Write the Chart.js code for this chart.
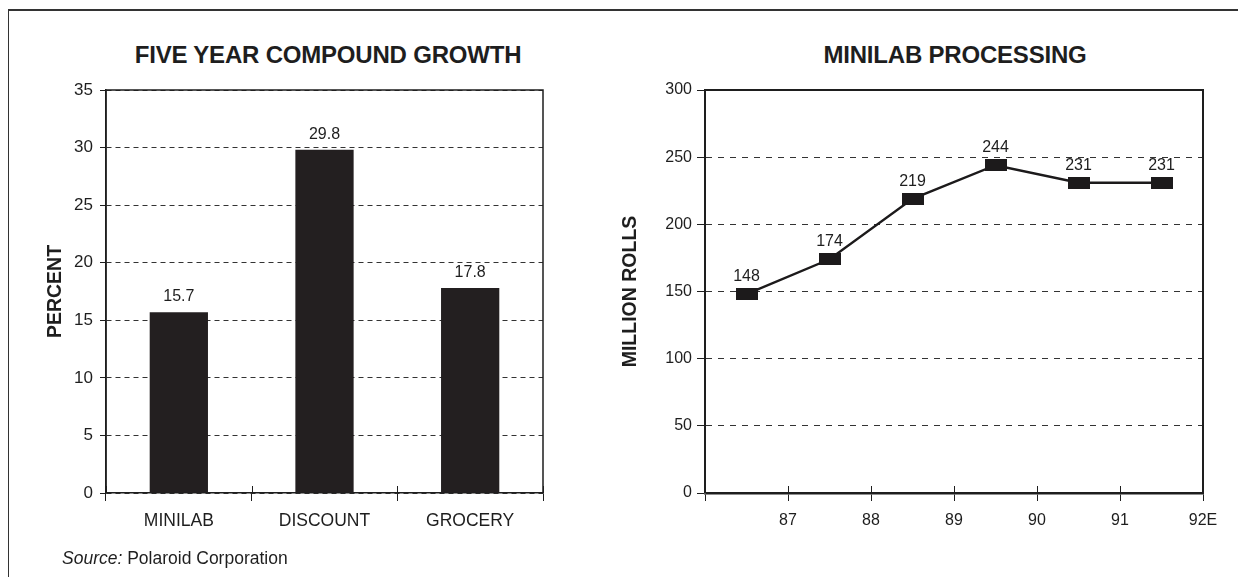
<!DOCTYPE html>
<html>
<head>
<meta charset="utf-8">
<script src="https://cdn.jsdelivr.net/npm/chart.js@4.4.0/dist/chart.umd.min.js"></script>
<style>
  html, body { margin: 0; padding: 0; background: #fff; }
  #page {
    position: relative; width: 1238px; height: 577px; overflow: hidden;
    background: #fff; color: #1e1e1e;
    font-family: "Liberation Sans", Arial, Helvetica, sans-serif;
  }
  #frame {
    position: absolute; left: 8px; top: 9px; right: -10px; bottom: -10px;
    border-top: 2px solid #333; border-left: 1.5px solid #333;
  }
  .panel-title {
    position: absolute; top: 43px; width: 460px; text-align: center;
    font-weight: bold; font-size: 24px; line-height: 24px; letter-spacing: -0.2px;
  }
  #source {
    position: absolute; left: 62px; top: 549px; font-size: 17.5px; line-height: 18px;
  }
  canvas { position: absolute; top: 0; }
</style>
</head>
<body>
<div id="page">
  <div id="frame"></div>
  <div class="panel-title" style="left:98px;">FIVE YEAR COMPOUND GROWTH</div>
  <div class="panel-title" style="left:725px;">MINILAB PROCESSING</div>
  <canvas id="growth" width="600" height="577" style="left:0;"></canvas>
  <canvas id="processing" width="638" height="577" style="left:600px;"></canvas>
  <div id="source"><i>Source:</i> Polaroid Corporation</div>
</div>
<script>
// Five year compound growth, percent
const growthCategories = ['MINILAB', 'DISCOUNT', 'GROCERY'];
const growthPercent = [15.7, 29.8, 17.8];

// Minilab processing, million rolls per year
const processingYears = ['87', '88', '89', '90', '91', '92E'];
const processingRolls = [148, 174, 219, 244, 231, 231];

const ink = '#1e1e1e';
const family = '"Liberation Sans", Arial, Helvetica, sans-serif';

// Solid box round the plot area, plus short tick stubs inside the x axis
const frameBox = {
  id: 'frameBox',
  afterDraw(chart, args, opts) {
    const { ctx, chartArea: { left, top, right, bottom } } = chart;
    ctx.save();
    ctx.strokeStyle = ink;
    ctx.lineWidth = opts.width;
    ctx.beginPath();
    ctx.moveTo(left, bottom);
    ctx.lineTo(left, top);
    ctx.lineTo(right, top);
    ctx.lineTo(right, bottom);
    ctx.stroke();
    const xs = chart.scales.x;
    const n = chart.data.labels.length;
    ctx.lineWidth = 1;
    for (let i = 0; i <= n; i++) {
      const px = Math.round(xs.getPixelForValue(i - 0.5)) + 0.5;
      ctx.beginPath();
      ctx.moveTo(px, bottom);
      ctx.lineTo(px, bottom - opts.stub);
      ctx.stroke();
    }
    ctx.restore();
  }
};

// Value printed above each bar / point
const valueLabels = {
  id: 'valueLabels',
  afterDatasetsDraw(chart, args, opts) {
    const { ctx } = chart;
    const meta = chart.getDatasetMeta(0);
    const values = chart.data.datasets[0].data;
    ctx.save();
    ctx.fillStyle = ink;
    ctx.font = opts.size + 'px ' + family;
    ctx.textAlign = 'center';
    ctx.textBaseline = 'alphabetic';
    meta.data.forEach((el, i) => {
      ctx.fillText(values[i].toFixed(opts.decimals), el.x, el.y - opts.gap);
    });
    ctx.restore();
  }
};

// Flat black block used as the line marker
function blockMarker(w, h) {
  const c = document.createElement('canvas');
  c.width = w; c.height = h;
  const g = c.getContext('2d');
  g.fillStyle = '#1c1a1b';
  g.fillRect(0, 0, w, h);
  return c;
}

const axisTitleFont = { family, size: 19.5, weight: 'bold' };

new Chart(document.getElementById('growth'), {
  type: 'bar',
  data: {
    labels: growthCategories,
    datasets: [{
      data: growthPercent,
      backgroundColor: '#231f20',
      barPercentage: 0.4,
      categoryPercentage: 1
    }]
  },
  options: {
    responsive: false,
    animation: false,
    devicePixelRatio: 1,
    layout: { padding: { top: 90, right: 57, left: 0, bottom: 0 } },
    plugins: {
      legend: { display: false },
      tooltip: { enabled: false },
      valueLabels: { size: 16, gap: 11, decimals: 1 },
      frameBox: { width: 1.5, stub: 7 }
    },
    scales: {
      x: {
        offset: true,
        grid: { offset: true, drawOnChartArea: false, tickLength: 8, color: ink, lineWidth: 1 },
        border: { display: true, color: ink, width: 1.5 },
        ticks: { color: ink, font: { family, size: 17.5 }, padding: 10 },
        afterFit(s) { s.height = 84; }
      },
      y: {
        min: 0, max: 35,
        ticks: { stepSize: 5, color: ink, font: { family, size: 17 }, padding: 7 },
        grid: { color: '#333', lineWidth: 1, tickLength: 6, tickBorderDash: [], tickColor: ink },
        border: { display: true, color: ink, width: 1.5, dash: [5, 4] },
        title: { display: true, text: 'PERCENT', color: ink, font: axisTitleFont, padding: { top: 44, bottom: 0 } },
        afterFit(s) { s.width = 106; }
      }
    }
  },
  plugins: [valueLabels, frameBox]
});

new Chart(document.getElementById('processing'), {
  type: 'line',
  data: {
    labels: processingYears,
    datasets: [{
      data: processingRolls,
      borderColor: '#1c1a1b',
      borderWidth: 2.4,
      pointStyle: blockMarker(22, 12),
      pointRadius: 8,
      tension: 0,
      fill: false
    }]
  },
  options: {
    responsive: false,
    animation: false,
    devicePixelRatio: 1,
    layout: { padding: { top: 90, right: 35, left: 0, bottom: 0 } },
    plugins: {
      legend: { display: false },
      tooltip: { enabled: false },
      valueLabels: { size: 16, gap: 13, decimals: 0 },
      frameBox: { width: 2, stub: 7 }
    },
    scales: {
      x: {
        type: 'category',
        offset: true,
        grid: { offset: true, drawOnChartArea: false, tickLength: 8, color: ink, lineWidth: 1 },
        border: { display: true, color: ink, width: 2.5 },
        ticks: { color: ink, font: { family, size: 16 }, padding: 10, labelOffset: 41.5, maxRotation: 0, autoSkip: false },
        afterFit(s) { s.height = 84; }
      },
      y: {
        min: 0, max: 300,
        ticks: { stepSize: 50, color: ink, font: { family, size: 16 }, padding: 5 },
        grid: { color: '#333', lineWidth: 1, tickLength: 8, tickBorderDash: [], tickColor: ink },
        border: { display: true, color: '#555', width: 2, dash: [6, 6] },
        title: { display: true, text: 'MILLION ROLLS', color: ink, font: axisTitleFont, padding: { top: 19, bottom: 0 } },
        afterFit(s) { s.width = 105; }
      }
    }
  },
  plugins: [valueLabels, frameBox]
});
</script>
</body>
</html>
